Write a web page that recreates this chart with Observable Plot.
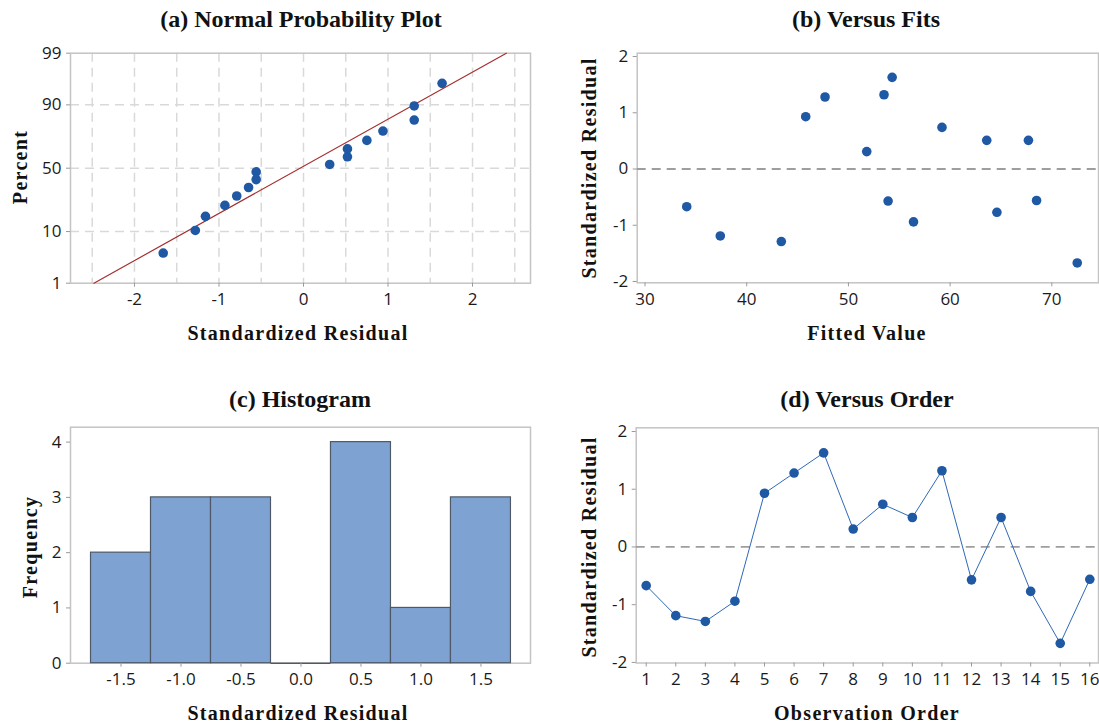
<!DOCTYPE html>
<html><head><meta charset="utf-8">
<script src="https://cdn.jsdelivr.net/npm/d3@7"></script>
<script src="https://cdn.jsdelivr.net/npm/@observablehq/plot@0.6"></script>
<style>
body{margin:0;background:#fff;}
#root{position:relative;width:1099px;height:726px;overflow:hidden;background:#fff;}
.panel{position:absolute;}
.panel svg{display:block;}
.panel svg text{font-size:17px !important;font-family:"Open Sans",sans-serif !important;}
.t{position:absolute;transform:translate(-50%,-50%);white-space:nowrap;font-family:"Liberation Serif","Times New Roman",serif;font-weight:bold;color:#111;line-height:1;}
.title{font-size:24px;}
.lab{font-size:20px;letter-spacing:1.3px;}
.rot{transform:translate(-50%,-50%) rotate(-90deg);}
</style></head><body><div id="root"></div>
<script>
// ---- data ----
const order = [1,2,3,4,5,6,7,8,9,10,11,12,13,14,15,16];
const residuals = [-0.67,-1.19,-1.29,-0.94,0.93,1.28,1.63,0.31,0.74,0.51,1.32,-0.57,0.51,-0.77,-1.67,-0.56];
const fits = [34.1,37.4,43.4,56.4,45.8,47.7,54.3,51.8,59.2,63.6,53.5,53.9,67.7,64.6,72.5,68.5];
const nppResidual = [-1.66,-1.28,-1.16,-0.93,-0.79,-0.65,-0.56,-0.56,0.31,0.52,0.52,0.75,0.94,1.31,1.31,1.64];
const nppPercent = [4.3,10.4,16.5,22.6,28.7,34.8,40.9,47.0,53.0,59.1,65.2,71.3,77.4,83.5,89.6,95.7];
const refLineResidual = [-2.48, 2.40];
const refLinePercent = [1, 99];
const percentTicks = [1,10,50,90,99];
const percentGrid = [10,50,90];
const nppGridX = [-2.5,-2,-1.5,-1,-0.5,0,0.5,1,1.5,2,2.5];
const nppXTicks = [-2,-1,0,1,2];
const binLow = [-1.75,-1.25,-0.75,-0.25,0.25,0.75,1.25];
const binHigh = [-1.25,-0.75,-0.25,0.25,0.75,1.25,1.75];
const binCount = [2,3,3,0,4,1,3];
const histXTicks = [-1.5,-1.0,-0.5,0.0,0.5,1.0,1.5];
const freqTicks = [0,1,2,3,4];
const residTicks = [-2,-1,0,1,2];
const fitTicks = [30,40,50,60,70];

// inverse normal CDF (Acklam) for the normal probability scale
function probit(p){
  const a=[-3.969683028665376e+01,2.209460984245205e+02,-2.759285104469687e+02,1.383577518672690e+02,-3.066479806614716e+01,2.506628277459239e+00];
  const b=[-5.447609879822406e+01,1.615858368580409e+02,-1.556989798598866e+02,6.680131188771972e+01,-1.328068155288572e+01];
  const c=[-7.784894002430293e-03,-3.223964580411365e-01,-2.400758277161838e+00,-2.549671010115994e+00,4.374664141464968e+00,2.938163982698783e+00];
  const d=[7.784695709041462e-03,3.224671290700398e-01,2.445134137142996e+00,3.754408661907416e+00];
  const pl=0.02425, ph=1-pl; let q,r;
  if(p<pl){q=Math.sqrt(-2*Math.log(p));return (((((c[0]*q+c[1])*q+c[2])*q+c[3])*q+c[4])*q+c[5])/((((d[0]*q+d[1])*q+d[2])*q+d[3])*q+1);}
  if(p<=ph){q=p-0.5;r=q*q;return (((((a[0]*r+a[1])*r+a[2])*r+a[3])*r+a[4])*r+a[5])*q/(((((b[0]*r+b[1])*r+b[2])*r+b[3])*r+b[4])*r+1);}
  q=Math.sqrt(-2*Math.log(1-p));return -(((((c[0]*q+c[1])*q+c[2])*q+c[3])*q+c[4])*q+c[5])/((((d[0]*q+d[1])*q+d[2])*q+d[3])*q+1);
}
const z = p => probit(p/100);

// ---- styling helpers ----
const FRAME = {stroke:"#c4c4c4", strokeWidth:1.5};
const BLUE = "#1f58a3";
const STYLE = {fontSize:"17px", fontFamily:'"Open Sans", sans-serif', color:"#1a1a1a", background:"transparent"};
function ax(kind, ticks, fmt){
  const f = kind === "x" ? Plot.axisX : Plot.axisY;
  return f({ticks, tickFormat: fmt, tickSize: 4, tickPadding: kind === "x" ? 6 : 5, label: null,
    stroke: "#9a9a9a", fill: "#1a1a1a", fontSize: 17, fontFamily: '"Open Sans", sans-serif'});
}
const root = document.getElementById("root");
function place(el, left, top){
  const d = document.createElement("div"); d.className = "panel";
  d.style.left = left + "px"; d.style.top = top + "px"; d.appendChild(el); root.appendChild(d);
}
function text(str, cls, x, y){
  const d = document.createElement("div"); d.className = "t " + cls; d.textContent = str;
  d.style.left = x + "px"; d.style.top = y + "px"; root.appendChild(d);
}

// ---- (a) Normal probability plot ----
const nppData = nppResidual.map((r,i)=>({r, p: nppPercent[i]}));
const refData = refLineResidual.map((r,i)=>({r, p: refLinePercent[i]}));
const zTicks = percentTicks.map(z);
const plotA = Plot.plot({
  width:550, height:350, marginLeft:70, marginRight:20, marginTop:52.7, marginBottom:67.3, style: STYLE,
  x:{domain:[-2.757, 2.686]}, y:{domain:[z(1), z(99)]},
  marks:[
    Plot.ruleX(nppGridX, {stroke:"#d9d9d9", strokeWidth:1.5, strokeDasharray:"9,6"}),
    Plot.ruleY(percentGrid, {y: z, stroke:"#d9d9d9", strokeWidth:1.5, strokeDasharray:"9,6"}),
    Plot.frame(FRAME),
    Plot.line(refData, {x:"r", y: d => z(d.p), stroke:"#a53030", strokeWidth:1.2}),
    Plot.dot(nppData, {x:"r", y: d => z(d.p), r:4.8, fill:BLUE, stroke:"none"}),
    ax("x", nppXTicks, d => String(d)),
    ax("y", zTicks, v => String(percentTicks[zTicks.findIndex(t => Math.abs(t - v) < 1e-9)]))
  ]
});
place(plotA, 0, 0);

// ---- (b) Versus fits ----
const obs = order.map((o,i)=>({o, res: residuals[i], fit: fits[i]}));
const plotB = Plot.plot({
  width:549, height:350, marginLeft:86.7, marginRight:1, marginTop:52.7, marginBottom:67.7, style: STYLE,
  x:{domain:[29.23, 74.59]}, y:{domain:[-2.023, 2.059]},
  marks:[
    Plot.frame(FRAME),
    Plot.ruleY([0], {stroke:"#9e9e9e", strokeWidth:1.8, strokeDasharray:"9,6"}),
    Plot.dot(obs, {x:"fit", y:"res", r:4.8, fill:BLUE, stroke:"none"}),
    ax("x", fitTicks, d => String(d)),
    ax("y", residTicks, d => String(d))
  ]
});
place(plotB, 550, 0);

// ---- (c) Histogram ----
const bins = binLow.map((lo,i)=>({lo, hi: binHigh[i], count: binCount[i]}));
const plotC = Plot.plot({
  width:550, height:346, marginLeft:70, marginRight:20, marginTop:46.7, marginBottom:63.3, style: STYLE,
  x:{domain:[-1.921, 1.913]}, y:{domain:[0, 4.27]},
  marks:[
    Plot.frame(FRAME),
    Plot.rectY(bins.filter(d => d.count > 0), {x1:"lo", x2:"hi", y:"count", fill:"#7ea3d3", stroke:"#4e5866", strokeWidth:1.2}),
    Plot.ruleY(bins.filter(d => d.count === 0), {y:"count", x1:"lo", x2:"hi", stroke:"#4e5866", strokeWidth:1.5}),
    ax("x", histXTicks, d => d.toFixed(1)),
    ax("y", freqTicks, d => String(d))
  ]
});
place(plotC, 0, 380);

// ---- (d) Versus order ----
const plotD = Plot.plot({
  width:549, height:346, marginLeft:85.7, marginRight:1, marginTop:47.3, marginBottom:63.5, style: STYLE,
  x:{domain:[0.662, 16.294]}, y:{domain:[-2.01, 2.064]},
  marks:[
    Plot.frame(FRAME),
    Plot.ruleY([0], {stroke:"#9e9e9e", strokeWidth:1.8, strokeDasharray:"9,6"}),
    Plot.line(obs, {x:"o", y:"res", stroke:"#2f68b8", strokeWidth:1}),
    Plot.dot(obs, {x:"o", y:"res", r:4.8, fill:BLUE, stroke:"none"}),
    ax("x", order, d => String(d)),
    ax("y", residTicks, d => String(d))
  ]
});
place(plotD, 550, 380);

// ---- titles and axis labels ----
text("(a) Normal Probability Plot", "title", 301, 19);
text("(b) Versus Fits", "title", 866, 19);
text("(c) Histogram", "title", 300, 399);
text("(d) Versus Order", "title", 867, 399);
text("Standardized Residual", "lab", 298, 333);
text("Fitted Value", "lab", 867, 333);
text("Standardized Residual", "lab", 298, 713);
text("Observation Order", "lab", 867, 713);
text("Percent", "lab rot", 20, 167);
text("Standardized Residual", "lab rot", 589, 168);
text("Frequency", "lab rot", 30, 547);
text("Standardized Residual", "lab rot", 589, 547);
</script></body></html>
